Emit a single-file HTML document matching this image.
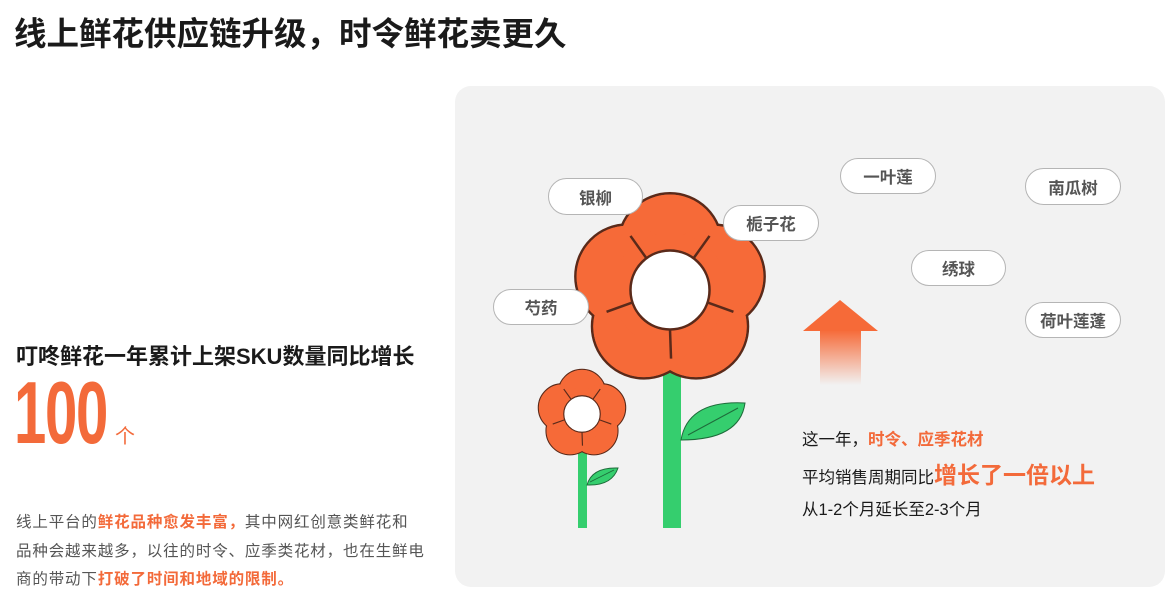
<!DOCTYPE html>
<html><head><meta charset="utf-8"><style>
body{margin:0;width:1173px;height:601px;background:#fff;position:relative;overflow:hidden;font-family:"Liberation Sans","Noto Sans CJK SC",sans-serif;color:#1a1a1a}
.a{position:absolute;white-space:nowrap}
.o{color:#f36a3a}
.pill{position:absolute;background:#fff;border:1.5px solid #b5b5b5;border-radius:20px;box-sizing:border-box;font-size:16.5px;color:#555;font-weight:bold;text-align:center;display:flex;align-items:center;justify-content:center}
</style></head><body>
<div class="a" style="left:14px;top:8px;font-size:32.5px;font-weight:bold;">线上鲜花供应链升级，时令鲜花卖更久</div>
<div class="a" style="left:16px;top:339px;font-size:22px;font-weight:bold;">叮咚鲜花一年累计上架SKU数量同比增长</div>
<div class="a o" style="left:14px;top:362px;font-size:88px;font-weight:bold;transform:scaleX(0.66);transform-origin:left top;letter-spacing:-2px">100</div>
<div class="a o" style="left:115px;top:420px;font-size:20px;">个</div>
<div class="a" style="left:16px;top:509px;font-size:15.5px;line-height:28.5px;color:#555;letter-spacing:0.85px">线上平台的<b class="o">鲜花品种愈发丰富，</b>其中网红创意类鲜花和<br>品种会越来越多，以往的时令、应季类花材，也在生鲜电<br>商的带动下<b class="o">打破了时间和地域的限制。</b></div>
<div class="a" style="left:455px;top:86px;width:710px;height:501px;background:#f2f2f2;border-radius:16px"></div>
<svg class="a" style="left:0;top:0" width="1173" height="601">
<defs><linearGradient id="g" x1="0" y1="0" x2="0" y2="1"><stop offset="0" stop-color="#f66a38"/><stop offset="1" stop-color="#f66a38" stop-opacity="0"/></linearGradient>
<g id="fl">
<g fill="#f66a38" stroke="#5a2a1a" stroke-width="2.4">
<circle cx="0" cy="-43" r="50"/><circle cx="41" cy="-13" r="50"/><circle cx="25" cy="35" r="50"/><circle cx="-25" cy="35" r="50"/><circle cx="-41" cy="-13" r="50"/></g>
<g fill="#f66a38">
<circle cx="0" cy="-43" r="48.8"/><circle cx="41" cy="-13" r="48.8"/><circle cx="25" cy="35" r="48.8"/><circle cx="-25" cy="35" r="48.8"/><circle cx="-41" cy="-13" r="48.8"/><circle r="55"/></g>
<g stroke="#5a2a1a" stroke-width="2.4"><line x1="0" y1="38" x2="1" y2="66"/><line x1="-23" y1="-31" x2="-38" y2="-52"/><line x1="23" y1="-31" x2="38" y2="-52"/><line x1="-36" y1="12" x2="-61" y2="21"/><line x1="36" y1="12" x2="61" y2="21"/></g>
<circle r="38" fill="#fff" stroke="#5a2a1a" stroke-width="2.4"/>
</g></defs>
<polygon points="840,300 878,331 803,331" fill="#f66a38"/>
<rect x="820" y="330" width="41" height="55" fill="url(#g)"/>
<rect x="663" y="360" width="18" height="168" fill="#35ce6e"/>
<path d="M681,440 Q688,400 745,403 Q740,440 681,440Z" fill="#35ce6e" stroke="#1e6b3a" stroke-width="1"/>
<line x1="688" y1="435" x2="738" y2="408" stroke="#1e6b3a"/>
<rect x="578" y="440" width="9" height="88" fill="#35ce6e"/>
<path d="M587,485 Q592,467 618,468 Q612,486 587,485Z" fill="#35ce6e" stroke="#1e6b3a" stroke-width="1"/>
<line x1="590" y1="482" x2="614" y2="470" stroke="#1e6b3a" stroke-width=".8"/>
<use href="#fl" transform="translate(670,290) scale(1.04)"/>
<use href="#fl" transform="translate(582,414) scale(0.48)"/>
</svg>
<div class="pill" style="left:548px;top:178px;width:95px;height:37px">银柳</div>
<div class="pill" style="left:723px;top:205px;width:96px;height:36px">栀子花</div>
<div class="pill" style="left:840px;top:158px;width:96px;height:36px">一叶莲</div>
<div class="pill" style="left:1025px;top:168px;width:96px;height:37px">南瓜树</div>
<div class="pill" style="left:911px;top:250px;width:95px;height:36px">绣球</div>
<div class="pill" style="left:1025px;top:302px;width:96px;height:36px">荷叶莲蓬</div>
<div class="pill" style="left:493px;top:289px;width:96px;height:36px">芍药</div>
<div class="a" style="left:802px;top:426px;font-size:16.5px">这一年，<b class="o">时令、应季花材</b></div>
<div class="a" style="left:802px;top:456px;font-size:16.5px">平均销售周期同比<b class="o" style="font-size:23px">增长了一倍以上</b></div>
<div class="a" style="left:802px;top:496px;font-size:16.5px">从1-2个月延长至2-3个月</div>
</body></html>
